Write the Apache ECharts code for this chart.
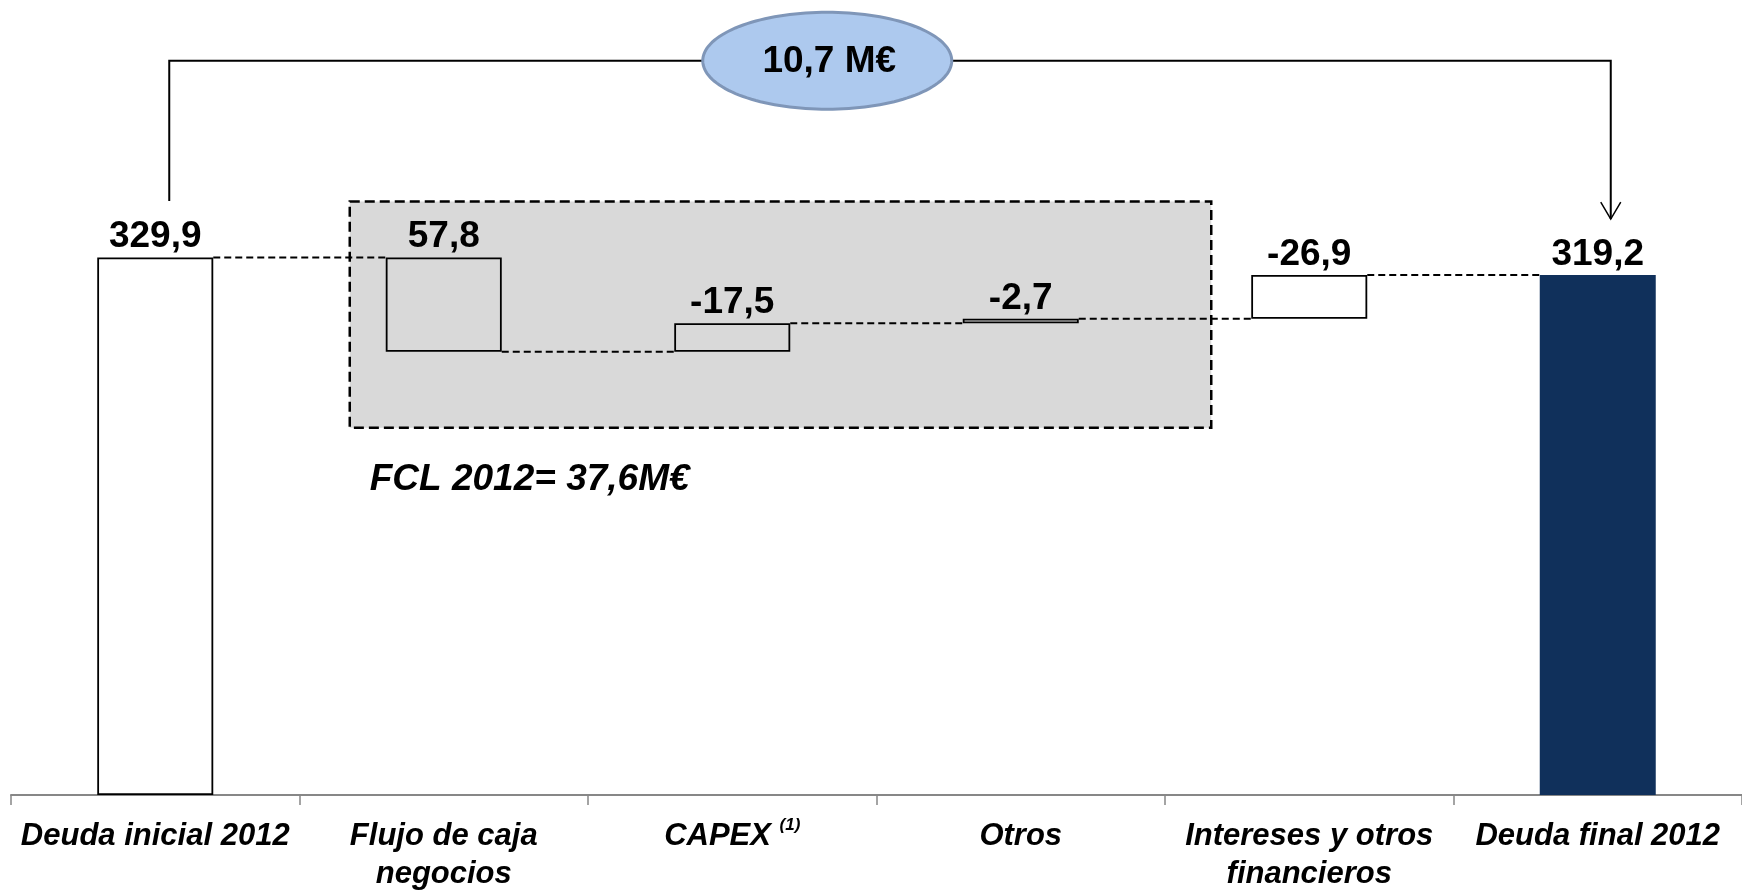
<!DOCTYPE html>
<html>
<head>
<meta charset="utf-8">
<script src="https://cdn.jsdelivr.net/npm/echarts@6/dist/echarts.min.js"></script>
<style>
html,body{margin:0;padding:0;background:#fff;}
#chart{width:1742px;height:893px;}
</style>
</head>
<body>
<div id="chart"></div>
<script>
// ---- data ----
const categories = ['Deuda inicial 2012', 'Flujo de caja\nnegocios', 'CAPEX (1)', 'Otros', 'Intereses y otros\nfinancieros', 'Deuda final 2012'];
const initialDebt = 329.9;
const finalDebt = 319.2;
const debtChanges = [57.8, -17.5, -2.7, -26.9];   // positive = debt reduction
const fclCount = 3;                                // first three changes form FCL
const reductionUnit = ' M€';

// ---- derived waterfall ----
const fmt = v => v.toFixed(1).replace('.', ',');
const labelValues = [initialDebt].concat(debtChanges, [finalDebt]);
const bases = [0];
const heights = [initialDebt];
const levels = [initialDebt];
let level = initialDebt;
debtChanges.forEach(c => {
  if (c > 0) { bases.push(level - c); heights.push(c); }
  else { bases.push(level); heights.push(-c); }
  level = level - c;
  levels.push(level);
});
bases.push(0); heights.push(finalDebt);
const fcl = debtChanges.slice(0, fclCount).reduce((a, b) => a + b, 0);
const reduction = initialDebt - finalDebt;

const FONT = '"Liberation Sans", Arial, Helvetica, sans-serif';
const BAR_W = 116;

const barItemStyles = [
  {color: '#ffffff', borderColor: '#000', borderWidth: 1.8},
  {color: 'rgba(0,0,0,0)', borderColor: '#000', borderWidth: 1.8},
  {color: 'rgba(0,0,0,0)', borderColor: '#000', borderWidth: 1.8},
  {color: '#e6e6e6', borderColor: '#000', borderWidth: 1.8},
  {color: '#ffffff', borderColor: '#000', borderWidth: 1.8},
  {color: '#10305b', borderWidth: 0}
];

function renderBox(params, api) {
  const tl = api.coord([1, 364.3]);
  const br = api.coord([4, 225.5]);
  const x0 = tl[0] - 94, x1 = br[0] - 98;
  return {
    type: 'rect',
    shape: {x: x0, y: tl[1], width: x1 - x0, height: br[1] - tl[1]},
    style: {fill: '#d9d9d9', stroke: '#000', lineWidth: 2.5, lineDash: [10, 5]}
  };
}

function renderConnectors(params, api) {
  const children = [];
  for (let i = 0; i < levels.length; i++) {
    const a = api.coord([i, levels[i]]);
    const b = api.coord([i + 1, levels[i]]);
    children.push({
      type: 'line',
      shape: {x1: a[0] + BAR_W / 2, y1: a[1], x2: b[0] - BAR_W / 2, y2: b[1]},
      style: {stroke: '#000', lineWidth: 2, lineDash: [7, 4]}
    });
  }
  return {type: 'group', children};
}

function renderAnnotations(params, api) {
  const yTop = api.coord([0, 450.7])[1];
  const yLeftEnd = api.coord([0, 364.6])[1];
  const yTip = api.coord([0, 353.5])[1];
  const xL = api.coord([0, 0])[0] + 14;
  const xR = api.coord([5, 0])[0] + 13;
  const cx = api.coord([2, 0])[0] + 95;
  const cy = yTop;
  const rx = 124.5, ry = 48.5;
  const pts = [];
  for (let k = 0; k < 144; k++) {
    const t = k / 144 * Math.PI * 2;
    pts.push([cx + rx * Math.cos(t), cy + ry * Math.sin(t)]);
  }
  const fclPos = api.coord([1, 0]);
  const fclY = api.coord([0, 193.6])[1];
  return {
    type: 'group',
    children: [
      {type: 'polyline', shape: {points: [[xL, yLeftEnd], [xL, yTop], [xR, yTop], [xR, yTip]]},
        style: {stroke: '#000', lineWidth: 2, fill: 'none'}},
      {type: 'polyline', shape: {points: [[xR - 10, yTip - 17], [xR, yTip], [xR + 10, yTip - 17]]},
        style: {stroke: '#000', lineWidth: 1.5, fill: 'none'}},
      {type: 'polygon', shape: {points: pts},
        style: {fill: '#adc9ee', stroke: '#7f96b8', lineWidth: 3}},
      {type: 'text', style: {
        text: fmt(reduction) + reductionUnit, x: cx + 2, y: cy + 1,
        font: 'bold 37px ' + FONT, fill: '#000',
        textAlign: 'center', textVerticalAlign: 'middle', align: 'center', verticalAlign: 'middle'}},
      {type: 'text', style: {
        text: 'FCL 2012= ' + fmt(fcl) + 'M€', x: fclPos[0] - 74, y: fclY,
        font: 'italic bold 37px ' + FONT, fill: '#000',
        textAlign: 'left', textVerticalAlign: 'middle', align: 'left', verticalAlign: 'middle'}}
    ]
  };
}

const chart = echarts.init(document.getElementById('chart'));
chart.setOption({
  animation: false,
  backgroundColor: '#ffffff',
  grid: {left: 11, right: 0, top: 0, bottom: 96, containLabel: false},
  xAxis: {
    type: 'category',
    data: categories,
    boundaryGap: true,
    axisLine: {show: true, lineStyle: {color: '#878787', width: 2}},
    axisTick: {show: true, interval: 0, length: 10, lineStyle: {color: '#878787', width: 1.5}},
    axisLabel: {
      interval: 0,
      margin: 22,
      color: '#000',
      fontFamily: FONT,
      fontSize: 31,
      fontWeight: 'bold',
      fontStyle: 'italic',
      lineHeight: 38,
      formatter: function (v) {
        const m = v.match(/^(.*) (\(\d\))$/);
        if (m) return '{b|' + m[1] + ' }{s|' + m[2] + '}';
        return v;
      },
      rich: {
        b: {fontFamily: FONT, fontSize: 31, fontWeight: 'bold', fontStyle: 'italic', color: '#000', lineHeight: 38},
        s: {fontFamily: FONT, fontSize: 17, fontWeight: 'bold', fontStyle: 'italic', color: '#000', lineHeight: 22, verticalAlign: 'top'}
      }
    }
  },
  yAxis: {type: 'value', min: 0, max: 488, show: false, splitLine: {show: false}},
  series: [
    {type: 'custom', z: 1, silent: true, coordinateSystem: 'cartesian2d', clip: false,
      data: [[0, 0]], renderItem: renderBox},
    {type: 'custom', z: 1.5, silent: true, coordinateSystem: 'cartesian2d', clip: false,
      data: [[0, 0]], renderItem: renderConnectors},
    {type: 'bar', stack: 'wf', barWidth: BAR_W, z: 2, silent: true,
      itemStyle: {color: 'rgba(0,0,0,0)', borderWidth: 0},
      data: bases},
    {type: 'bar', stack: 'wf', barWidth: BAR_W, z: 2, silent: true,
      data: heights.map((h, i) => ({value: h, itemStyle: barItemStyles[i]})),
      label: {
        show: true, position: 'top', distance: 2,
        fontFamily: FONT, fontSize: 37, fontWeight: 'bold', color: '#000', lineHeight: 37,
        formatter: p => fmt(labelValues[p.dataIndex])
      }},
    {type: 'custom', z: 3, silent: true, coordinateSystem: 'cartesian2d', clip: false,
      data: [[0, 0]], renderItem: renderAnnotations}
  ]
});
</script>
</body>
</html>
